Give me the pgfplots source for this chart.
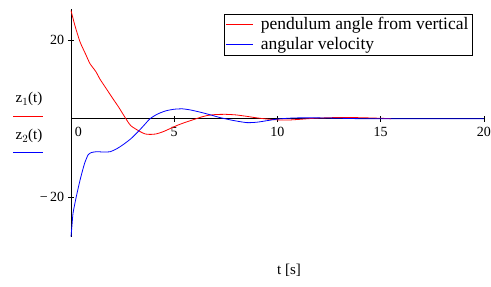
\documentclass[border=0pt]{standalone}
\usepackage{fontspec}
\setmainfont{Liberation Serif}
\usepackage{pgfplots}
\pgfplotsset{compat=1.18}
\begin{document}
\fontsize{14}{16}\selectfont
\begin{tikzpicture}[x=1pt,y=1pt]
\useasboundingbox (0,0) rectangle (491,287);
\begin{axis}[
  at={(71pt,50.4pt)}, anchor=south west,
  scale only axis, width=413pt, height=228pt,
  xmin=0, xmax=20, ymin=-30, ymax=28,
  axis lines=middle,
  axis line style={-, black, line width=0.8pt},
  xtick={5,10,15,20},
  extra x ticks={0},
  extra x tick style={xticklabel style={anchor=north west, xshift=-1pt}},
  ytick={-20,20},
  yticklabels={{−\,20},{20}},
  tick align=center,
  major tick length=6pt,
  tick style={black, line width=0.6pt},
  xticklabel style={yshift=-1pt},
  yticklabel style={xshift=1pt},
  /pgf/number format/assume math mode=true,
  ticklabel style={font=\fontsize{14}{16}\selectfont},
  legend style={at={(axis description cs:0.973,0.977)}, anchor=north east,
    draw=black, line width=0.8pt, font=\fontsize{17.5}{19}\selectfont,
    inner xsep=2pt, inner ysep=1pt, row sep=2pt, legend cell align=left,
    /tikz/every odd column/.append style={column sep=5pt}},
  legend image code/.code={\draw[line width=1pt] (0pt,0pt) -- (27pt,0pt);},
  clip=false,
]
\addplot[red, line width=0.8pt, smooth, tension=0.4] coordinates {
(0,27.5) (0.2,23.5) (0.44,19.5) (0.7,16.5) (0.92,14) (1.2,12) (1.41,10) (1.7,7.7)
(2.04,5) (2.3,3) (2.62,0.3) (2.9,-1.8) (3.35,-3.3) (3.6,-3.9) (3.83,-4) (4.1,-3.9)
(4.47,-3.3) (5.1,-1.8) (5.5,-1) (5.9,-0.3) (6.3,0.4) (6.6,0.8) (7,1.05) (7.5,1.1)
(8,0.95) (8.5,0.6) (9,0.2) (9.5,-0.1) (10,-0.3) (10.5,-0.35) (11,-0.2) (11.5,0)
(12,0.15) (13,0.3) (14,0.25) (15,0.1) (15.5,0)
};
\addlegendentry{pendulum angle from vertical}
\addplot[blue, line width=0.8pt, smooth, tension=0.4] coordinates {
(0,-30) (0.05,-27) (0.1,-24) (0.25,-20) (0.44,-15.6) (0.65,-11.5) (0.83,-9.2)
(1.0,-8.6) (1.26,-8.4) (1.6,-8.5) (1.9,-8.4) (2.2,-7.7) (2.5,-6.7) (2.9,-5.1)
(3.25,-3.3) (3.55,-1.6) (3.83,0) (4.2,1.2) (4.6,2) (5,2.4) (5.4,2.5) (5.8,2.2)
(6.3,1.6) (6.8,0.9) (7.2,0.3) (7.8,-0.4) (8.5,-1) (9,-0.9) (9.5,-0.5) (10,-0.1)
(10.5,0.1) (11,0.2) (12,0.2) (13,0.1) (14,0) (16,0) (18,0) (20,0)
};
\addlegendentry{angular velocity}
\end{axis}
\node[anchor=base] at (29,184) {\fontsize{15}{17}\selectfont z$_1$(t)};
\draw[color=red, line width=1pt] (13,170) -- (43,170);
\node[anchor=base] at (29,147) {\fontsize{15}{17}\selectfont z$_2$(t)};
\draw[color=blue, line width=1pt] (13,134) -- (43,134);
\node at (289,17) {\fontsize{15}{17}\selectfont t [s]};
\end{tikzpicture}
\end{document}
